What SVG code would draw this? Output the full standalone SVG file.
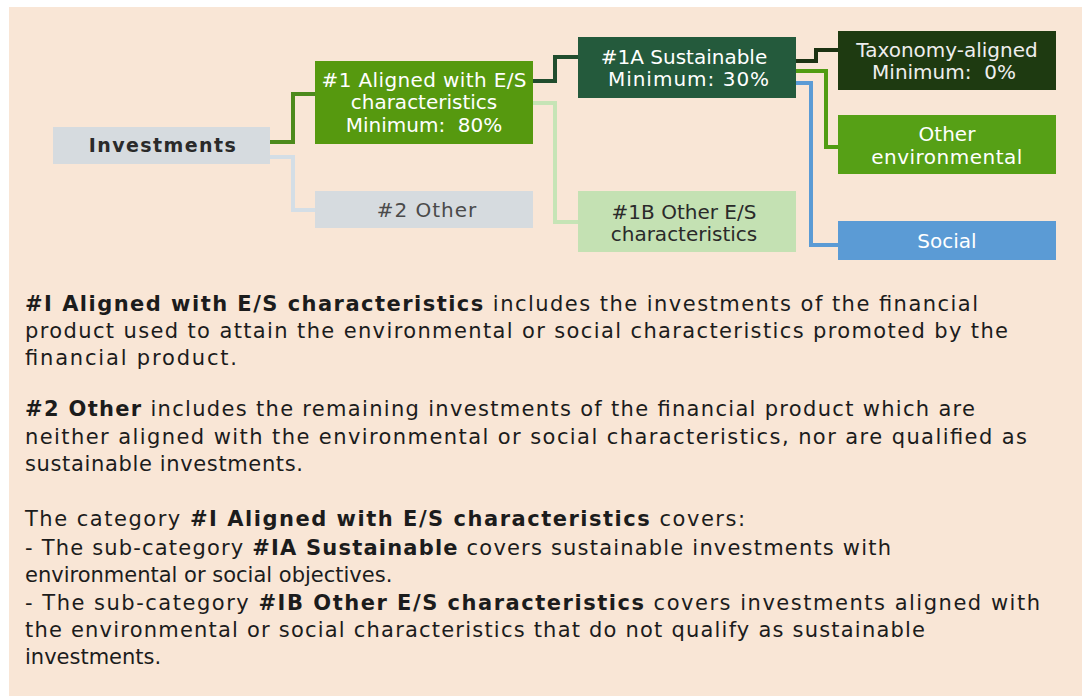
<svg xmlns="http://www.w3.org/2000/svg" width="1082" height="696" viewBox="0 0 1082 696">
<style>
.nl{font-family:"DejaVu Sans","Liberation Sans",sans-serif;font-size:20px;text-anchor:middle;fill:#ffffff}
.dk{fill:#2a2a2a}
.body{font-family:"DejaVu Sans","Liberation Sans",sans-serif;font-size:21px;fill:#1c1c1c}
.b{font-weight:bold}
.cn{fill:none;stroke-width:4;stroke-linejoin:miter}
</style>
<rect x="0" y="0" width="1082" height="696" fill="#ffffff"/>
<rect x="9" y="7" width="1073" height="689" fill="#f9e6d6"/>
<g id="connectors">
<path class="cn" stroke="#4d8a1c" d="M270,142 H293 V94 H315"/>
<path class="cn" stroke="#d4dee6" d="M270,157 H293 V210 H315"/>
<path class="cn" stroke="#214d2e" d="M533,81 H555 V57 H578"/>
<path class="cn" stroke="#c6e4b6" d="M533,103 H555 V222 H578"/>
<path class="cn" stroke="#1c3212" d="M796,61 H816 V50 H838"/>
<path class="cn" stroke="#519c12" d="M796,71 H826 V147 H838"/>
<path class="cn" stroke="#5b9bd5" d="M796,83 H811 V245 H838"/>
</g>
<g id="investments">
<rect x="53" y="127" width="217" height="37" fill="#d6dbdf"/>
<text class="nl dk b" style="font-size:19px;letter-spacing:1.4px" x="163" y="152">Investments</text>
</g>
<g id="aligned">
<rect x="315" y="61" width="218" height="83" fill="#56990f"/>
<text class="nl" x="424" y="87" textLength="205" lengthAdjust="spacing">#1 Aligned with E/S</text>
<text class="nl" x="424" y="109">characteristics</text>
<text class="nl" x="424" y="132" xml:space="preserve">Minimum:  80%</text>
</g>
<g id="other2">
<rect x="315" y="191" width="218" height="37" fill="#d6dbdf"/>
<text class="nl" style="fill:#4a4a4a;letter-spacing:1px" x="427" y="217">#2 Other</text>
</g>
<g id="sustainable">
<rect x="578" y="37" width="218" height="61" fill="#245a3c"/>
<text class="nl" x="684" y="64">#1A Sustainable</text>
<text class="nl" style="letter-spacing:1px" x="689" y="86">Minimum: 30%</text>
</g>
<g id="taxonomy">
<rect x="838" y="31" width="218" height="59" fill="#1e3a11"/>
<text class="nl" style="fill:#eeeeee" x="947" y="57">Taxonomy-aligned</text>
<text class="nl" style="fill:#eeeeee" x="944" y="79" xml:space="preserve">Minimum:  0%</text>
</g>
<g id="otherenv">
<rect x="838" y="115" width="218" height="59" fill="#56a016"/>
<text class="nl" x="947" y="141">Other</text>
<text class="nl" style="letter-spacing:0.5px" x="947" y="164">environmental</text>
</g>
<g id="otheres">
<rect x="578" y="191" width="218" height="61" fill="#c4e1b3"/>
<text class="nl dk" x="684" y="219">#1B Other E/S</text>
<text class="nl dk" x="684" y="241">characteristics</text>
</g>
<g id="social">
<rect x="838" y="221" width="218" height="39" fill="#5b9bd5"/>
<text class="nl" x="947" y="248">Social</text>
</g>
<g id="legend">
<text class="body" x="25" y="311" textLength="953" lengthAdjust="spacing"><tspan class="b">#I Aligned with E/S characteristics</tspan> includes the investments of the financial</text>
<text class="body" x="25" y="338" textLength="983" lengthAdjust="spacing">product used to attain the environmental or social characteristics promoted by the</text>
<text class="body" x="25" y="365" textLength="212" lengthAdjust="spacing">financial product.</text>
<text class="body" x="25" y="416" textLength="950" lengthAdjust="spacing"><tspan class="b">#2 Other</tspan> includes the remaining investments of the financial product which are</text>
<text class="body" x="25" y="444" textLength="1002" lengthAdjust="spacing">neither aligned with the environmental or social characteristics, nor are qualified as</text>
<text class="body" x="25" y="471" textLength="278" lengthAdjust="spacing">sustainable investments.</text>
<text class="body" x="25" y="526" textLength="720" lengthAdjust="spacing">The category <tspan class="b">#I Aligned with E/S characteristics</tspan> covers:</text>
<text class="body" x="25" y="555" textLength="866" lengthAdjust="spacing">- The sub-category <tspan class="b">#IA Sustainable</tspan> covers sustainable investments with</text>
<text class="body" x="25" y="582">environmental or social objectives.</text>
<text class="body" x="25" y="610" textLength="1015" lengthAdjust="spacing">- The sub-category <tspan class="b">#IB Other E/S characteristics</tspan> covers investments aligned with</text>
<text class="body" x="25" y="637" textLength="900" lengthAdjust="spacing">the environmental or social characteristics that do not qualify as sustainable</text>
<text class="body" x="25" y="664">investments.</text>
</g>
</svg>
